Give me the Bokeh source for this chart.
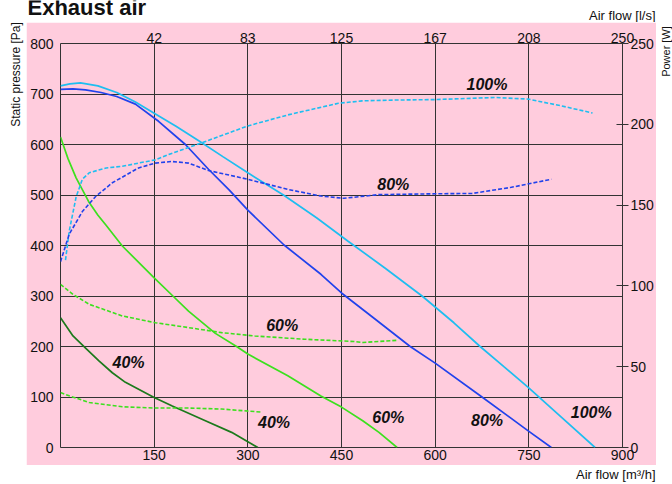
from bokeh.plotting import figure
from bokeh.layouts import row, column
from bokeh.models import Range1d, LinearAxis, FixedTicker, ColumnDataSource
from bokeh.core.properties import value
from bokeh.embed import file_html
from bokeh.resources import INLINE
import math

# ---------------- data ----------------
# Static pressure [Pa] vs air flow [m3/h] at each fan speed
p100_flow = [0, 15, 32, 60, 90, 120, 150, 185, 222, 260, 300, 357, 410, 460, 520, 579, 630, 672, 710, 749, 802, 856]
p100_pa = [716, 720, 722, 716, 703, 684, 662, 636, 607, 576, 544, 500, 455, 409, 355, 300, 247, 200, 160, 119, 60, 0]

p80_flow = [0, 20, 40, 65, 90, 120, 157, 200, 237, 270, 300, 358, 417, 450, 500, 560, 600, 675, 749, 786]
p80_pa = [709, 710, 708, 703, 695, 680, 646, 600, 551, 510, 470, 401, 343, 306, 258, 200, 167, 100, 33, 0]

p60_flow = [0, 12, 25, 46, 60, 73, 99, 150, 180, 205, 248, 282, 300, 364, 417, 450, 484, 510, 539]
p60_pa = [615, 572, 534, 485, 460, 440, 399, 336, 300, 270, 226, 200, 185, 142, 102, 80, 53, 30, 0]

p40_flow = [0, 20, 41, 62, 83, 104, 150, 179, 232, 274, 316]
p40_pa = [257, 221, 196, 171, 148, 129, 99, 82, 53, 30, 0]

# Power consumption [W] vs air flow [m3/h] at each fan speed
w100_flow = [8, 14, 25, 35, 46, 73, 99, 125, 152, 178, 226, 300, 366, 445, 483, 536, 600, 696, 749, 802, 852]
w100_w = [116, 134, 155, 166, 170, 173, 174, 176, 178, 182, 188.5, 199, 206, 213, 214.5, 215, 215.3, 216.6, 215.6, 211.4, 207]

w80_flow = [0, 14, 35, 57, 83, 125, 152, 178, 205, 237, 300, 364, 417, 454, 510, 600, 659, 722, 786]
w80_w = [115, 132, 146, 155.6, 163.8, 173, 176, 177, 176, 171.4, 166, 159.7, 155.6, 154.2, 156.5, 157, 157.2, 161, 166]

w60_flow = [0, 20, 46, 99, 152, 205, 258, 311, 391, 470, 484, 539]
w60_w = [101, 94.8, 88.6, 81.4, 77.2, 74.2, 71.1, 69, 67, 65.6, 65, 66.3]

w40_flow = [0, 14, 46, 99, 152, 205, 258, 322]
w40_w = [34, 32, 27.8, 25.2, 24.4, 24.4, 23.8, 21.9]

# axis ticks
flow_ticks = [150, 300, 450, 600, 750, 900]
flow_ls_labels = ["42", "83", "125", "167", "208", "250"]
pressure_ticks = [0, 100, 200, 300, 400, 500, 600, 700, 800]
power_ticks = [0, 50, 100, 150, 200, 250]

# speed labels (anchored in flow / pressure coordinates)
speed_text = ["100%", "80%", "60%", "40%", "40%", "60%", "80%", "100%"]
speed_x = [683, 533, 355, 109, 342, 525, 683, 850]
speed_y = [718, 521, 241, 168, 50, 59, 54, 70]

# ---------------- styling ----------------
PINK = "#FFCCDD"
C100 = "#1EBEF0"
C80 = "#2142EC"
C60 = "#3CE01E"
C40 = "#1C7A1C"
GRID = "#333333"
INK = "#111111"
FONT = "Liberation Sans"

# ---------------- main chart ----------------
p = figure(width=630, height=443, output_backend="svg", toolbar_location=None,
           x_range=Range1d(0, 900), y_range=Range1d(0, 800), frame_align=False,
           min_border_left=34, min_border_right=32, min_border_top=21, min_border_bottom=18,
           background_fill_color=PINK, border_fill_color=PINK,
           outline_line_color=GRID, outline_line_width=1)
p.extra_y_ranges = {"power": Range1d(0, 250)}

p.xgrid.ticker = FixedTicker(ticks=flow_ticks[:-1])
p.ygrid.ticker = FixedTicker(ticks=pressure_ticks[1:-1])
for g in (p.xgrid, p.ygrid):
    g.grid_line_color = GRID
    g.grid_line_width = 1


def style_axis(ax, standoff, tick_in=0, tick_out=0):
    ax.major_label_text_font = FONT
    ax.major_label_text_font_size = "14px"
    ax.major_label_text_color = INK
    ax.major_label_standoff = standoff
    ax.major_tick_in = tick_in
    ax.major_tick_out = tick_out
    ax.minor_tick_line_color = None
    ax.minor_tick_in = 0
    ax.minor_tick_out = 0


# bottom axis: m3/h
xa = p.xaxis[0]
xa.ticker = FixedTicker(ticks=flow_ticks)
xa.axis_line_color = None
xa.major_tick_line_color = None
style_axis(xa, 2)

# left axis: Pa
ya = p.yaxis[0]
ya.ticker = FixedTicker(ticks=pressure_ticks)
ya.axis_line_color = None
ya.major_tick_line_color = None
style_axis(ya, 7)

# top axis: l/s
top = LinearAxis(ticker=FixedTicker(ticks=flow_ticks),
                 major_label_overrides={t: s for t, s in zip(flow_ticks, flow_ls_labels)})
top.axis_line_color = None
top.major_tick_line_color = None
style_axis(top, 1)
p.add_layout(top, "above")

# right axis: W
right = LinearAxis(y_range_name="power", ticker=FixedTicker(ticks=power_ticks))
right.axis_line_color = GRID
right.major_tick_line_color = GRID
right.major_tick_line_width = 1
style_axis(right, 2, tick_in=6, tick_out=6)
p.add_layout(right, "right")

# pressure curves (solid)
for fx, fy, c in ((p100_flow, p100_pa, C100), (p80_flow, p80_pa, C80),
                  (p60_flow, p60_pa, C60), (p40_flow, p40_pa, C40)):
    p.line(fx, fy, line_color=c, line_width=1.7)

# power curves (dashed, right axis)
for fx, fy, c in ((w100_flow, w100_w, C100), (w80_flow, w80_w, C80),
                  (w60_flow, w60_w, C60), (w40_flow, w40_w, C60)):
    p.line(fx, fy, line_color=c, line_width=1.6, line_dash="4 2", y_range_name="power")

src = ColumnDataSource(dict(x=speed_x, y=speed_y, t=speed_text))
p.text(x="x", y="y", text="t", source=src, text_font=value(FONT),
       text_font_style="bold italic", text_font_size="16px", text_color=INK,
       text_align="center", text_baseline="middle")


# ---------------- white margins with titles ----------------
def strip(w, h):
    f = figure(width=w, height=h, x_range=Range1d(0, w), y_range=Range1d(0, h),
               x_axis_type=None, y_axis_type=None, toolbar_location=None, title=None,
               output_backend="svg", min_border=0, outline_line_color=None,
               frame_align=False, border_fill_color="white", background_fill_color="white")
    return f


def caption(f, x, y, s, size, style="normal", align="left", angle=0.0):
    f.text(x=[x], y=[y], text=[s], text_font=value(FONT), text_font_size=size,
           text_font_style=style, text_color=INK, text_align=align,
           text_baseline="middle", angle=angle)


top_strip = strip(630, 22)
caption(top_strip, 1, 15.2, "Exhaust air", "22px", style="bold")
caption(top_strip, 629, 7, "Air flow [l/s]", "13px", align="right")

bottom_strip = strip(630, 19)
caption(bottom_strip, 629, 10, "Air flow [m³/h]", "13px", align="right")

left_strip = strip(26, 484)
caption(left_strip, 15, 410, "Static pressure [Pa]", "12px", align="center", angle=math.pi / 2)

right_strip = strip(16, 484)
caption(right_strip, 9, 433, "Power [W]", "11px", align="center", angle=math.pi / 2)

page = row(left_strip, column(top_strip, p, bottom_strip), right_strip)

open("out.html", "w").write(file_html(page, INLINE))
